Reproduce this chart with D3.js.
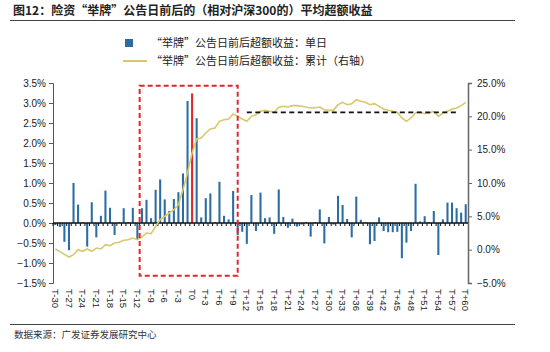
<!DOCTYPE html>
<html>
<head>
<meta charset="utf-8">
<script src="https://cdn.jsdelivr.net/npm/d3@7"></script>
<style>
    body { margin: 0; background: #fff; }
    svg { display: block; }
    text { font-family: "Liberation Sans", Arial, sans-serif; fill: #222; }
    .cjk { font-family: "Noto Sans CJK SC", sans-serif; }
</style>
</head>
<body>
<svg id="chart" width="550" height="352"></svg>
<script>
// Categories: trading days around the announcement date
const days = d3.range(-30, 61).map(d => d === 0 ? 'T0' : (d < 0 ? `T${d}` : `T+${d}`));

// Daily excess return, % (left axis)
const dailyExcess = [
    -0.05, -0.10, -0.47, -0.68, 1.00, 0.46, 0.02, -0.59, 0.52, -0.36,
    0.18, 0.81, 0.38, -0.30, 0.02, 0.37, 0.02, 0.38, -0.41, 0.37,
    0.58, 0.12, 0.83, 1.09, 0.59, 0.30, 0.60, 0.77, 1.24, 3.05,
    3.24, 2.62, 0.14, 0.62, 0.74, 0.02, 1.03, 0.18, 0.09, 0.80,
    -0.30, -0.22, -0.52, 0.70, -0.20, 0.76, 0.12, 0.14, -0.27, 0.84,
    0.15, -0.12, 0.11, -0.09, -0.04, 0.02, -0.34, 0.02, 0.34, -0.51,
    0.15, -0.04, 0.68, 0.45, 0.10, -0.36, 0.66, 0.08, 0.02, -0.53,
    -0.45, 0.14, -0.20, -0.23, -0.23, -0.22, -0.88, -0.49, -0.20, 0.98,
    0.04, 0.17, 0.02, 0.30, -0.80, 0.09, 0.51, 0.51, 0.37, 0.26,
    0.47
];

// Cumulative excess return, % (right axis)
const cumulativeExcess = [
    0.1, -0.3, -0.7, -1.1, -0.75, 0.0, -0.25, 0.1, -0.25, 0.25,
    0.1, 0.75, 0.6, 1.0, 1.1, 1.4, 1.5, 1.75, 1.5, 1.9,
    2.5, 2.4, 3.5, 4.5, 5.0, 5.5, 6.0, 6.75, 9.0, 11.5,
    14.5, 16.6, 16.75, 17.5, 18.1, 18.25, 19.25, 19.5, 19.6, 20.35,
    20.0, 19.6, 19.25, 20.0, 20.25, 20.75, 20.9, 20.75, 20.6, 21.35,
    21.5, 21.4, 21.6, 21.6, 21.5, 21.4, 21.25, 21.3, 21.4, 21.0,
    20.9, 20.9, 21.75, 22.1, 21.75, 21.9, 22.5, 22.25, 22.1, 21.75,
    21.9, 21.5, 21.1, 20.9, 20.75, 20.6, 19.75, 19.25, 19.75, 20.5,
    20.6, 20.4, 20.5, 20.75, 20.0, 20.5, 20.75, 21.1, 21.25, 21.6,
    22.1
];

const leftTicks = [-1.5, -1.0, -0.5, 0, 0.5, 1.0, 1.5, 2.0, 2.5, 3.0, 3.5];
const rightTicks = [-5, 0, 5, 10, 15, 20, 25];
const xTickLabels = days.filter((d, i) => i % 3 === 0);

// Annotations (in data terms)
const highlightBox = { from: 'T-11', to: 'T+10', top: 3.43, bottom: -1.32 };
const plateau = { from: 'T+12', to: 'T+58', level: 20.6 };

const TITLE = '图12：险资“举牌”公告日前后的（相对沪深300的）平均超额收益';
const LEGEND_DAILY = '“举牌”公告日前后超额收益：单日';
const LEGEND_CUM = '“举牌”公告日前后超额收益：累计（右轴）';
const SOURCE = '数据来源：广发证券发展研究中心';

const BLUE = '#2b6ca3';
const RED = '#e3262b';
const YELLOW = '#d8c86a';

const plot = { left: 53, right: 468, top: 83, bottom: 283 };
const svg = d3.select('#chart');

// Scales
const x = d3.scaleBand()
    .domain(days)
    .range([plot.left, plot.right])
    .paddingInner(0.55)
    .paddingOuter(0.275);

const yLeft = d3.scaleLinear().domain([-1.5, 3.5]).range([plot.bottom, plot.top]);
const yRight = d3.scaleLinear().domain([-5, 25]).range([plot.bottom, plot.top]);
const center = d => x(d) + x.bandwidth() / 2;

// Title and rules
svg.append('text')
    .attr('class', 'cjk')
    .attr('x', 13)
    .attr('y', 15)
    .style('font-size', '12px')
    .style('font-weight', 'bold')
    .text(TITLE);

svg.append('line')
    .attr('x1', 10).attr('x2', 515)
    .attr('y1', 20.5).attr('y2', 20.5)
    .attr('stroke', '#444')
    .attr('stroke-width', 1);

svg.append('line')
    .attr('x1', 10).attr('x2', 515)
    .attr('y1', 324.5).attr('y2', 324.5)
    .attr('stroke', '#444')
    .attr('stroke-width', 1);

svg.append('text')
    .attr('class', 'cjk')
    .attr('x', 14)
    .attr('y', 338)
    .style('font-size', '9.5px')
    .style('fill', '#333')
    .text(SOURCE);

// Legend
const legend = svg.append('g').attr('class', 'legend');
legend.append('rect')
    .attr('x', 125).attr('y', 39)
    .attr('width', 8).attr('height', 8)
    .attr('fill', BLUE);
legend.append('text')
    .attr('class', 'cjk')
    .attr('x', 151).attr('y', 47)
    .style('font-size', '11px')
    .text(LEGEND_DAILY);
legend.append('line')
    .attr('x1', 123).attr('x2', 147)
    .attr('y1', 61).attr('y2', 61)
    .attr('stroke', YELLOW)
    .attr('stroke-width', 2);
legend.append('text')
    .attr('class', 'cjk')
    .attr('x', 151).attr('y', 65)
    .style('font-size', '11px')
    .text(LEGEND_CUM);

// Left axis
const leftAxis = svg.append('g')
    .attr('transform', `translate(${plot.left},0)`)
    .call(d3.axisLeft(yLeft)
        .tickValues(leftTicks)
        .tickSize(4)
        .tickPadding(3)
        .tickFormat(d => d3.format('.1f')(d) + '%'));
leftAxis.select('.domain').attr('stroke', '#555');
leftAxis.selectAll('.tick line').attr('stroke', '#555');
leftAxis.selectAll('.tick text')
    .style('font-size', '10px')
    .style('font-family', '"Liberation Sans", Arial, sans-serif')
    .attr('fill', '#222');

// Right axis
const rightAxis = svg.append('g')
    .attr('transform', `translate(${plot.right},0)`)
    .call(d3.axisRight(yRight)
        .tickValues(rightTicks)
        .tickSize(4)
        .tickPadding(5)
        .tickFormat(d => d3.format('.1f')(d) + '%'));
rightAxis.select('.domain').attr('stroke', '#666').attr('stroke-width', 1.5);
rightAxis.selectAll('.tick line').attr('stroke', '#666');
rightAxis.selectAll('.tick text')
    .style('font-size', '10px')
    .style('font-family', '"Liberation Sans", Arial, sans-serif')
    .attr('fill', '#222');

// Bars
svg.append('g')
    .selectAll('rect')
    .data(dailyExcess)
    .join('rect')
    .attr('x', (d, i) => x(days[i]))
    .attr('width', x.bandwidth())
    .attr('y', d => yLeft(Math.max(0, d)))
    .attr('height', d => Math.abs(yLeft(d) - yLeft(0)))
    .attr('fill', (d, i) => days[i] === 'T0' ? RED : BLUE);

// Zero line with category ticks
const zeroY = yLeft(0);
const zero = svg.append('g');
zero.append('line')
    .attr('x1', plot.left).attr('x2', plot.right)
    .attr('y1', zeroY).attr('y2', zeroY)
    .attr('stroke', '#111')
    .attr('stroke-width', 1.3);
zero.selectAll('.ztick')
    .data(days)
    .join('line')
    .attr('class', 'ztick')
    .attr('x1', d => x(d) - x.step() * 0.275)
    .attr('x2', d => x(d) - x.step() * 0.275)
    .attr('y1', zeroY)
    .attr('y2', zeroY + 3)
    .attr('stroke', '#111')
    .attr('stroke-width', 1);

// Cumulative line
const line = d3.line()
    .x((d, i) => center(days[i]))
    .y(d => yRight(d));

svg.append('path')
    .datum(cumulativeExcess)
    .attr('d', line)
    .attr('fill', 'none')
    .attr('stroke', YELLOW)
    .attr('stroke-width', 1.6);

// Highlight box around the announcement window
const boxLeft = x(highlightBox.from) - x.step() * 0.275;
const boxRight = center(highlightBox.to);
svg.append('rect')
    .attr('x', boxLeft)
    .attr('y', yLeft(highlightBox.top))
    .attr('width', boxRight - boxLeft)
    .attr('height', yLeft(highlightBox.bottom) - yLeft(highlightBox.top))
    .attr('fill', 'none')
    .attr('stroke', RED)
    .attr('stroke-width', 2)
    .attr('stroke-dasharray', '5,3');

// Plateau level
svg.append('line')
    .attr('x1', center(plateau.from))
    .attr('x2', center(plateau.to) + x.step() / 2)
    .attr('y1', yRight(plateau.level))
    .attr('y2', yRight(plateau.level))
    .attr('stroke', '#111')
    .attr('stroke-width', 1.6)
    .attr('stroke-dasharray', '5,3.5');

// X labels (rotated)
svg.append('g')
    .selectAll('text')
    .data(xTickLabels)
    .join('text')
    .attr('transform', d => `translate(${center(d)},289) rotate(90)`)
    .attr('dy', '0.35em')
    .style('font-size', '9.5px')
    .text(d => d);
</script>
</body>
</html>
